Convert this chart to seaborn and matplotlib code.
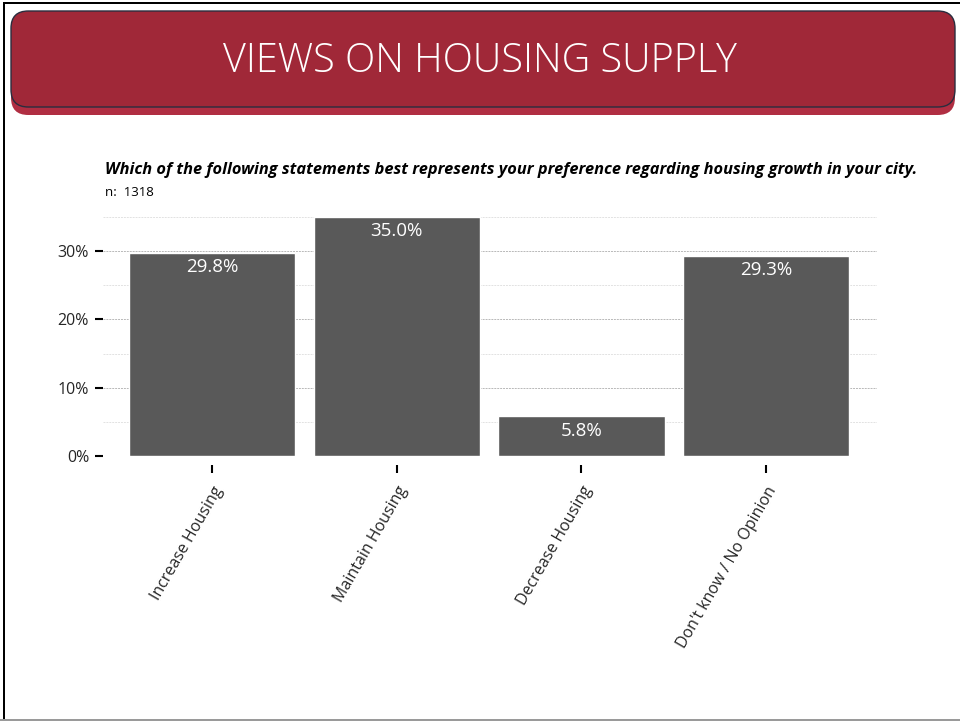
import matplotlib.pyplot as plt
import matplotlib.transforms as mtrans
import pandas as pd
import seaborn as sns
from matplotlib.patches import FancyBboxPatch, Rectangle
from matplotlib.ticker import FixedLocator

categories = ["Increase Housing", "Maintain Housing", "Decrease Housing", "Don't know / No Opinion"]
shares = [29.8, 35.0, 5.8, 29.3]
y_major = [0, 10, 20, 30]
y_minor = [5, 15, 25, 35]

title = "VIEWS ON HOUSING SUPPLY"
question = "Which of the following statements best represents your preference regarding housing growth in your city."
sample = "n:  1318"

df = pd.DataFrame({"answer": categories, "share": shares})

sns.set_theme(style="white")
plt.rcParams["font.family"] = ["Open Sans", "DejaVu Sans"]

W, H = 960, 721
fig = plt.figure(figsize=(9.6, 7.21), dpi=100)

# outer frame
fig.add_artist(Rectangle((3 / W, 0), 2 / W, 1 - 2 / H, transform=fig.transFigure,
                         color="black", lw=0))
fig.add_artist(Rectangle((3 / W, 1 - 4 / H), 1 - 3 / W, 2 / H, transform=fig.transFigure,
                         color="black", lw=0))
fig.add_artist(Rectangle((0, 0), 1, 2 / H, transform=fig.transFigure,
                         color="#9a9a9a", lw=0))

# title banner with shadow
fig.add_artist(FancyBboxPatch((11 / W, 1 - 115 / H), 944 / W, 96 / H,
                              boxstyle="round,pad=0,rounding_size=0.018",
                              transform=fig.transFigure, fc="#B02E42", ec="none",
                              mutation_aspect=W / H))
fig.add_artist(FancyBboxPatch((11 / W, 1 - 107 / H), 944 / W, 96 / H,
                              boxstyle="round,pad=0,rounding_size=0.018",
                              transform=fig.transFigure, fc="#A02838", ec="#2a2d3e",
                              lw=1.0, mutation_aspect=W / H))
fig.text(0.5, 1 - 61 / H, title, ha="center", va="center", color="white",
         fontsize=28.5, fontweight="light")

fig.text(105 / W, 1 - 170 / H, question, ha="left", va="center", fontsize=11.75,
         fontweight="bold", fontstyle="italic", color="black")
fig.text(105 / W, 1 - 192 / H, sample, ha="left", va="center", fontsize=9.5,
         color="black")

ax = fig.add_axes([103 / W, 1 - 456 / H, 774 / W, 239 / H])
sns.barplot(data=df, x="answer", y="share", color="#595959", saturation=1,
            width=0.9, ax=ax, zorder=3)

ax.set_xlim(-0.59, 3.6)
ax.set_ylim(0, 35)
ax.yaxis.set_major_locator(FixedLocator(y_major))
ax.yaxis.set_minor_locator(FixedLocator(y_minor))
ax.set_yticklabels([f"{v}%" for v in y_major], fontsize=11.5)
ax.grid(axis="y", which="major", color="#b8b8b8", linestyle=(0, (2, 1)), lw=0.7, zorder=0)
ax.grid(axis="y", which="minor", color="#e2e2e2", linestyle=(0, (2, 1)), lw=0.7, zorder=0)
ax.tick_params(axis="y", which="major", left=True, length=6, width=1.5, color="black", pad=4)
ax.tick_params(axis="y", which="minor", left=False)
ax.tick_params(axis="x", bottom=True, length=6, width=1.5, color="black", pad=14)
for s in ax.spines.values():
    s.set_visible(False)
ax.set_xticks(range(len(categories)))
ax.set_xticklabels(categories, rotation=60, ha="right", rotation_mode="anchor", fontsize=11.5)
ax.set_xlabel("")
ax.set_ylabel("")

# x ticks sit a little below the baseline
offset = mtrans.ScaledTranslation(0, -9 / 100, fig.dpi_scale_trans)
for t in ax.xaxis.get_major_ticks():
    t.tick1line.set_transform(t.tick1line.get_transform() + offset)

for i, v in enumerate(shares):
    ax.text(i, v - 0.8, f"{v:.1f}%", ha="center", va="top", color="white", fontsize=13.5)

fig.savefig("out.png", dpi=100)
